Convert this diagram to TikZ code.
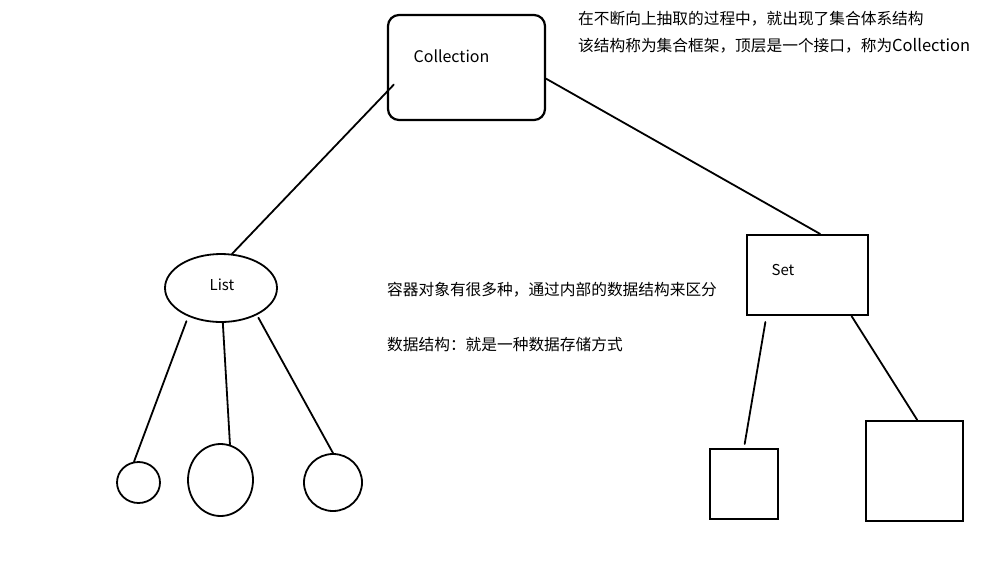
\documentclass[tikz,border=0pt]{standalone}
\usepackage{fontspec}
\setmainfont{Noto Sans CJK SC}
\usetikzlibrary{shapes.geometric}
\begin{document}
\begin{tikzpicture}[x=1pt,y=-1pt,
  edge/.style={line width=1.8pt, line cap=round},
  shapebox/.style={draw, line width=2.2pt, inner sep=0pt},
  oval/.style={draw, ellipse, line width=1.8pt, inner sep=0pt},
  lbl/.style={font=\fontsize{15}{18}\selectfont, inner sep=0pt},
  note/.style={font=\fontsize{15.7}{18}\selectfont, inner sep=0pt, anchor=west}
]
\useasboundingbox (0,0) rectangle (987,587);

% top: the Collection interface
\node[shapebox, rounded corners=11pt, minimum width=157pt, minimum height=105pt] (coll) at (466.5,67.5) {};
\node[lbl, font=\fontsize{16}{18}\selectfont] (colltxt) at (451.5,56) {Collection};

% List branch
\node[oval, minimum width=112pt, minimum height=68pt] (list) at (221,288) {};
\node[lbl] (listtxt) at (222,285) {List};
\node[oval, minimum width=43pt, minimum height=41pt] (c1) at (138.5,482.5) {};
\node[oval, minimum width=65pt, minimum height=72pt] (c2) at (220.5,480) {};
\node[oval, minimum width=58pt, minimum height=57pt] (c3) at (333,482.5) {};

% Set branch
\node[shapebox, minimum width=121pt, minimum height=80pt] (set) at (807.5,275) {};
\node[lbl] (settxt) at (783,270) {Set};
\node[shapebox, minimum width=68pt, minimum height=70pt] (sq1) at (744,484) {};
\node[shapebox, minimum width=97pt, minimum height=100pt] (sq2) at (914.5,471) {};

% connectors
\draw[edge, shorten >=-10pt] (list.72) -- (coll.197);
\draw[edge] (coll.-8) -- (set.73);
\draw[edge, shorten <=5pt] (list.221) -- (c1.102);
\draw[edge] (list.-87) -- (c2.75);
\draw[edge, shorten <=3pt] (list.-37) -- (c3.north);
\draw[edge, shorten <=6pt, shorten >=4pt] (set.-135) -- (sq1.north);
\draw[edge] (set.-43) -- (sq2.87);

% notes
\node[note] (n1) at (578,19) {在不断向上抽取的过程中，就出现了集合体系结构};
\node[note] (n2) at (578,46) {该结构称为集合框架，顶层是一个接口，称为\fontsize{16.5}{18}\selectfont Collection};
\node[note] (n3) at (387,290) {容器对象有很多种，通过内部的数据结构来区分};
\node[note] (n4) at (387,345) {数据结构：就是一种数据存储方式};
\end{tikzpicture}
\end{document}
